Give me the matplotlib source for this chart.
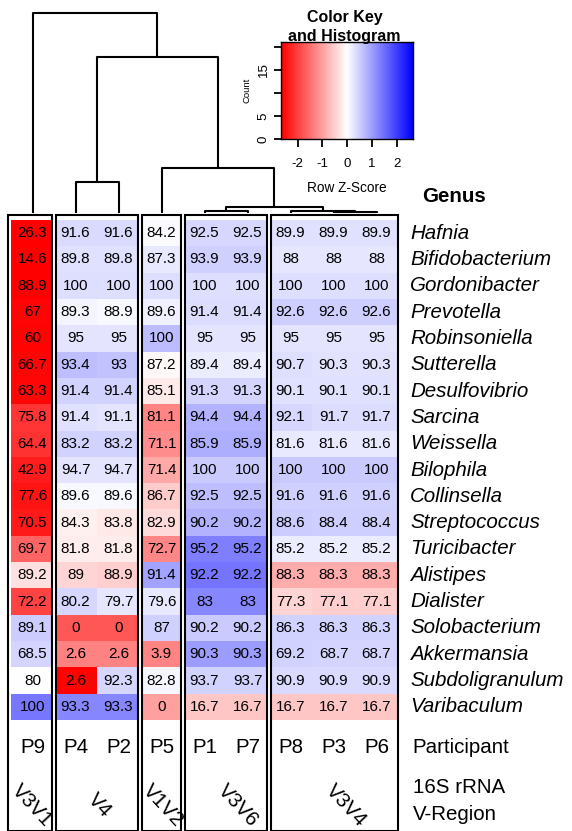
import numpy as np
import matplotlib.pyplot as plt
from matplotlib.colors import LinearSegmentedColormap
from matplotlib.patches import Rectangle

plt.rcParams['font.family'] = ['Liberation Sans', 'DejaVu Sans']
plt.rcParams['axes.unicode_minus'] = False

# columns in display order (after clustering)
participants = ['P9', 'P4', 'P2', 'P5', 'P1', 'P7', 'P8', 'P3', 'P6']
regions = ['V3V1', 'V4', 'V1V2', 'V3V6', 'V3V4']
region_sizes = [1, 2, 1, 2, 3]
region_label_x = [0.49, 2.05, 3.53, 5.28, 7.79]

genera = ['Hafnia', 'Bifidobacterium', 'Gordonibacter', 'Prevotella',
          'Robinsoniella', 'Sutterella', 'Desulfovibrio', 'Sarcina',
          'Weissella', 'Bilophila', 'Collinsella', 'Streptococcus',
          'Turicibacter', 'Alistipes', 'Dialister', 'Solobacterium',
          'Akkermansia', 'Subdoligranulum', 'Varibaculum']

values = np.array([
    [26.3, 91.6, 91.6, 84.2, 92.5, 92.5, 89.9, 89.9, 89.9],
    [14.6, 89.8, 89.8, 87.3, 93.9, 93.9, 88, 88, 88],
    [88.9, 100, 100, 100, 100, 100, 100, 100, 100],
    [67, 89.3, 88.9, 89.6, 91.4, 91.4, 92.6, 92.6, 92.6],
    [60, 95, 95, 100, 95, 95, 95, 95, 95],
    [66.7, 93.4, 93, 87.2, 89.4, 89.4, 90.7, 90.3, 90.3],
    [63.3, 91.4, 91.4, 85.1, 91.3, 91.3, 90.1, 90.1, 90.1],
    [75.8, 91.4, 91.1, 81.1, 94.4, 94.4, 92.1, 91.7, 91.7],
    [64.4, 83.2, 83.2, 71.1, 85.9, 85.9, 81.6, 81.6, 81.6],
    [42.9, 94.7, 94.7, 71.4, 100, 100, 100, 100, 100],
    [77.6, 89.6, 89.6, 86.7, 92.5, 92.5, 91.6, 91.6, 91.6],
    [70.5, 84.3, 83.8, 82.9, 90.2, 90.2, 88.6, 88.4, 88.4],
    [69.7, 81.8, 81.8, 72.7, 95.2, 95.2, 85.2, 85.2, 85.2],
    [89.2, 89, 88.9, 91.4, 92.2, 92.2, 88.3, 88.3, 88.3],
    [72.2, 80.2, 79.7, 79.6, 83, 83, 77.3, 77.1, 77.1],
    [89.1, 0, 0, 87, 90.2, 90.2, 86.3, 86.3, 86.3],
    [68.5, 2.6, 2.6, 3.9, 90.3, 90.3, 69.2, 68.7, 68.7],
    [80, 2.6, 92.3, 82.8, 93.7, 93.7, 90.9, 90.9, 90.9],
    [100, 93.3, 93.3, 0, 16.7, 16.7, 16.7, 16.7, 16.7],
])

# column dendrogram: (left, right, height), leaves are column indices
tree = (0, ((1, 2, 0.155),
            (3, ((4, 5, 0.01), (6, (7, 8, 0.005), 0.01), 0.03), 0.225),
            0.78), 1.0)

# row z-scores like heatmap.2 scale="row"
z = (values - values.mean(axis=1, keepdims=True)) / values.std(axis=1, ddof=1, keepdims=True)
vmax = np.abs(z).max()
cmap = LinearSegmentedColormap.from_list('rwb', ['red', 'white', 'blue'])

nrow, ncol = values.shape
W, H = 572, 831
fig = plt.figure(figsize=(W / 100, H / 100), dpi=100)

# heatmap
ax = fig.add_axes([11 / W, 1 - 720 / H, 387 / W, 500 / H])
ax.pcolormesh(np.arange(ncol + 1), np.arange(nrow + 1), z, cmap=cmap,
              vmin=-vmax, vmax=vmax)
ax.set_xlim(0, ncol)
ax.set_ylim(nrow, 0)
ax.axis('off')
for i in range(nrow):
    for j in range(ncol):
        ax.text(j + 0.5, i + 0.5, f'{values[i, j]:g}', ha='center', va='center',
                fontsize=11)
    ax.text(9.28, i + 0.5, genera[i], ha='left', va='center', fontsize=14.8,
            style='italic')
for j, p in enumerate(participants):
    ax.text(j + 0.5, 20.06, p, ha='center', va='center', fontsize=14.8)

# group separators and boxes
edges = np.concatenate([[0], np.cumsum(region_sizes)])
for b in edges[1:-1]:
    ax.axvspan(b - 0.06, b + 0.06, color='white', lw=0)
for k, name in enumerate(regions):
    s, e = edges[k], edges[k + 1]
    left = s + (0.05 if s > 0 else -0.07)
    right = e - (0.05 if e < ncol else 0.0)
    ax.add_patch(Rectangle((left, -0.19), right - left, 23.4, fill=False,
                           ec='black', lw=1.5, clip_on=False))
    ax.text(region_label_x[k], 22.25, name, rotation=-47, ha='center',
            va='center', fontsize=14.8, clip_on=False)

ax.text(9.56, -0.91, 'Genus', ha='left', va='center', fontsize=14.8,
        fontweight='bold')
ax.text(9.33, 20.06, 'Participant', ha='left', va='center', fontsize=14.8)
ax.text(9.35, 21.58, '16S rRNA', ha='left', va='center', fontsize=14.8)
ax.text(9.35, 22.6, 'V-Region', ha='left', va='center', fontsize=14.8)

# dendrogram
axd = fig.add_axes([11 / W, 1 - 213 / H, 387 / W, 200 / H])
axd.set_xlim(0, ncol)
axd.set_ylim(0, 1.0)
axd.axis('off')


def draw(node):
    if isinstance(node, int):
        return node + 0.5, 0.0
    l, r, h = node
    xl, hl = draw(l)
    xr, hr = draw(r)
    axd.plot([xl, xl, xr, xr], [hl, h, h, hr], color='black', lw=1.5,
             clip_on=False, solid_capstyle='butt')
    return (xl + xr) / 2, h


draw(tree)

# color key
axk = fig.add_axes([281 / W, 1 - 139 / H, 132 / W, 97 / H])
ymax = 21.1
grad = np.linspace(-vmax, vmax, 256)[None, :]
axk.imshow(grad, cmap=cmap, vmin=-vmax, vmax=vmax, aspect='auto',
           extent=[-vmax, vmax, 0, ymax], origin='lower')
axk.set_xlim(-vmax, vmax)
axk.set_ylim(0, ymax)
axk.set_xticks([-2, -1, 0, 1, 2])
axk.set_xticklabels(['-2', '-1', '0', '1', '2'], fontsize=9.5)
axk.set_yticks([0, 5, 10, 15, 20])
axk.set_yticklabels(['0', '5', '', '15', ''], fontsize=9.5, rotation=90,
                    va='center')
axk.tick_params(axis='x', length=6, width=1.3, pad=8)
axk.tick_params(axis='y', length=5, width=1.3, pad=3)
for sp in axk.spines.values():
    sp.set_linewidth(1.0)
axk.text(0.5, -0.505, 'Row Z-Score', transform=axk.transAxes, ha='center',
         va='center', fontsize=9.8)
axk.text(-0.26, 0.5, 'Count', transform=axk.transAxes, rotation=90,
         ha='center', va='center', fontsize=6.8)
axk.text(0.48, 1.25, 'Color Key', transform=axk.transAxes, ha='center',
         va='center', fontsize=11.5, fontweight='bold')
axk.text(0.48, 1.06, 'and Histogram', transform=axk.transAxes, ha='center',
         va='center', fontsize=11.5, fontweight='bold')

fig.savefig('out.png', dpi=100)
